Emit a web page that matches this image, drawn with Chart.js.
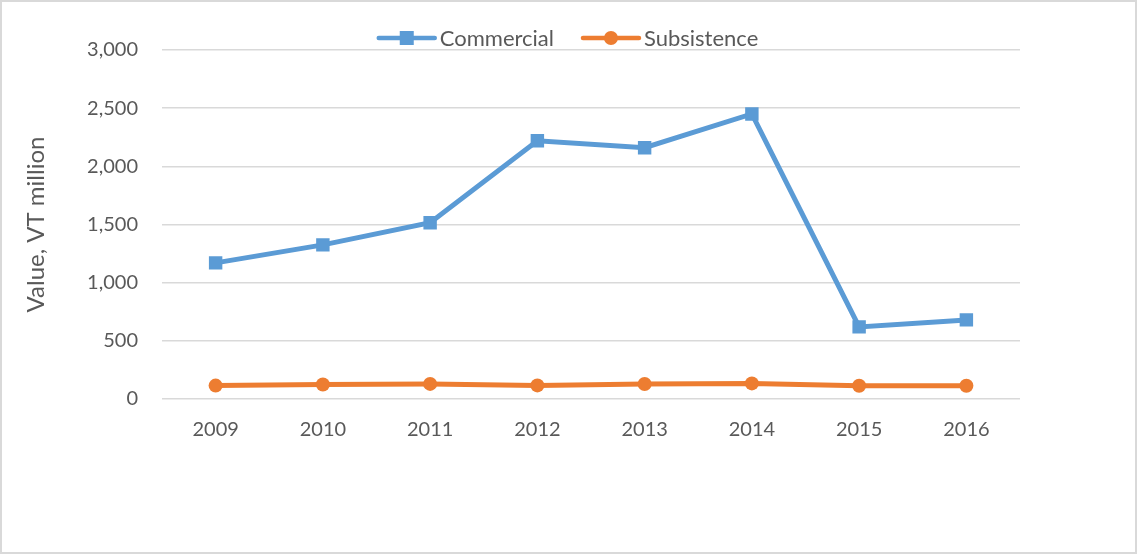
<!DOCTYPE html>
<html>
<head>
<meta charset="utf-8">
<script src="https://cdn.jsdelivr.net/npm/chart.js@4"></script>
<style>
  body { margin: 0; background: #fff; }
  #wrap { width: 1137px; height: 554px; }
</style>
</head>
<body>
<div id="wrap"><canvas id="lineChart" width="1137" height="554"></canvas></div>
<script>
const years = ['2009', '2010', '2011', '2012', '2013', '2014', '2015', '2016'];
const commercial = [1170, 1325, 1515, 2220, 2160, 2450, 620, 680];
const subsistence = [115, 124, 130, 117, 129, 134, 114, 114];
const yTicks = [0, 500, 1000, 1500, 2000, 2500, 3000];

const blue = '#5B9BD5';
const orange = '#ED7D31';
const textColor = '#595959';
const gridColor = '#D9D9D9';
const fontFamily = 'Lato, "Open Sans", sans-serif';

// white background + thin gray frame round the whole chart
const framePlugin = {
  id: 'frame',
  beforeDraw(chart) {
    const c = chart.ctx;
    c.save();
    c.fillStyle = '#fff';
    c.fillRect(0, 0, chart.width, chart.height);
    c.strokeStyle = gridColor;
    c.lineWidth = 2;
    c.strokeRect(1, 1, chart.width - 2, chart.height - 2);
    c.restore();
  }
};

// legend drawn like Excel: a short line with the marker in the middle
const legendPlugin = {
  id: 'excelLegend',
  afterDraw(chart) {
    const c = chart.ctx;
    const y = 38;
    const lineLen = 56;
    const gap = 5;
    const itemGap = 29;
    c.save();
    c.font = '22px ' + fontFamily;
    c.textBaseline = 'middle';
    const items = chart.data.datasets.map(ds => ({
      label: ds.label, color: ds.borderColor, style: ds.pointStyle,
      w: lineLen + gap + c.measureText(ds.label).width
    }));
    const total = items.reduce((s, it) => s + it.w, 0) + itemGap * (items.length - 1);
    let x = chart.width / 2 - total / 2;
    items.forEach(it => {
      c.strokeStyle = it.color;
      c.lineWidth = 4.5;
      c.lineCap = 'round';
      c.beginPath();
      c.moveTo(x, y);
      c.lineTo(x + lineLen, y);
      c.stroke();
      c.fillStyle = it.color;
      const mx = x + lineLen / 2;
      if (it.style === 'rect') {
        c.fillRect(mx - 7, y - 7, 14, 14);
      } else {
        c.beginPath();
        c.arc(mx, y, 7, 0, Math.PI * 2);
        c.fill();
      }
      c.fillStyle = textColor;
      c.fillText(it.label, x + lineLen + gap, y + 1);
      x += it.w + itemGap;
    });
    c.restore();
  }
};

const ctx = document.getElementById('lineChart').getContext('2d');
const chart = new Chart(ctx, {
  type: 'line',
  data: {
    labels: years,
    datasets: [{
      label: 'Commercial',
      data: commercial,
      borderColor: blue,
      backgroundColor: blue,
      borderWidth: 5,
      pointStyle: 'rect',
      pointRadius: 9.5,
      pointBorderWidth: 0,
      tension: 0
    }, {
      label: 'Subsistence',
      data: subsistence,
      borderColor: orange,
      backgroundColor: orange,
      borderWidth: 5,
      pointStyle: 'circle',
      pointRadius: 7,
      pointBorderWidth: 0,
      tension: 0
    }]
  },
  options: {
    responsive: false,
    animation: false,
    layout: { padding: { top: 50, right: 117, bottom: 0, left: 0 } },
    plugins: {
      legend: { display: false },
      tooltip: { enabled: false }
    },
    scales: {
      x: {
        offset: true,
        grid: { display: false, drawTicks: false },
        border: { display: false },
        ticks: { color: textColor, font: { family: fontFamily, size: 20 }, padding: 19 },
        afterFit(scale) { scale.height = 155; }
      },
      y: {
        min: 0,
        max: 3000,
        afterBuildTicks(scale) { scale.ticks = yTicks.map(v => ({ value: v })); },
        grid: { color: gridColor, lineWidth: 1.5, drawTicks: false },
        border: { display: false },
        ticks: {
          color: textColor,
          font: { family: fontFamily, size: 20 },
          padding: 24,
          callback: v => v.toLocaleString('en-US')
        },
        title: {
          display: true,
          text: 'Value, VT million',
          color: textColor,
          font: { family: fontFamily, size: 24 },
          padding: { top: 22 }
        },
        afterFit(scale) { scale.width = 162; }
      }
    }
  },
  plugins: [framePlugin, legendPlugin]
});
</script>
</body>
</html>
